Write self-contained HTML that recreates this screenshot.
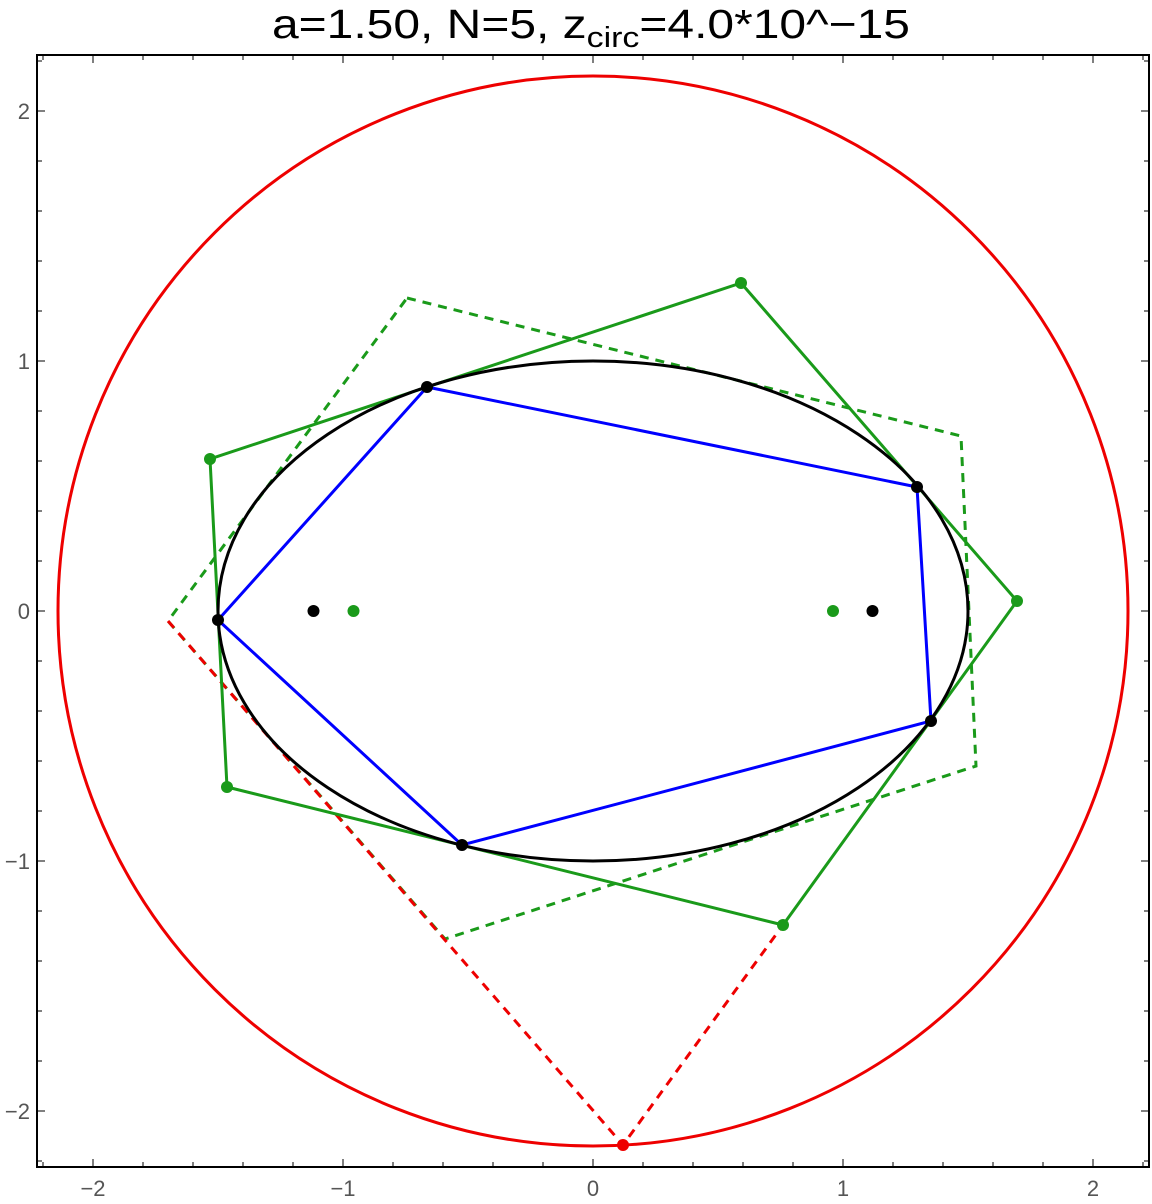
<!DOCTYPE html>
<html><head><meta charset="utf-8"><style>
body{margin:0;background:#fff;}
svg{display:block;}
text{font-family:"Liberation Sans",sans-serif;}
</style></head><body>
<svg id="chart" width="1152" height="1204" viewBox="0 0 1152 1204" xmlns="http://www.w3.org/2000/svg">
<text x="272" y="38" font-size="41" fill="#000" textLength="638" lengthAdjust="spacingAndGlyphs">a=1.50, N=5, z<tspan font-size="29" dy="9">circ</tspan><tspan dy="-9">=4.0*10^−15</tspan></text>
<rect x="37" y="55" width="1112" height="1112" fill="none" stroke="#000" stroke-width="2"/>
<g id="ticks"></g>
<g id="marks"></g>
</svg>
<script>
const majorTicks=[-2,-1,0,1,2];
const tickLabels=["−2","−1","0","1","2"];
const circleR=2.14;
const ellipseA=1.5, ellipseB=1.0;
const blueX=[-0.664,1.296,1.352,-0.524,-1.5];
const blueY=[0.896,0.496,-0.44,-0.936,-0.036];
const greenX=[0.592,1.696,0.76,-1.464,-1.532];
const greenY=[1.312,0.04,-1.256,-0.704,0.608];
const dashX=[-0.744,1.472,1.532,-0.592,-1.7];
const dashY=[1.252,0.7,-0.62,-1.312,-0.04];
const redX=[-1.7,0.12,0.76];
const redY=[-0.04,-2.136,-1.256];
const fociBlackX=[-1.118,1.118];
const fociGreenX=[-0.958,0.96];

const NS="http://www.w3.org/2000/svg";
const sx=v=>593+250*v, sy=v=>611-250*v;
function mk(tag,attrs,parent){const e=document.createElementNS(NS,tag);for(const k in attrs)e.setAttribute(k,attrs[k]);parent.appendChild(e);return e;}
const T=document.getElementById('ticks'), M=document.getElementById('marks');
for(let v=-2.2;v<=2.21;v+=0.2){
  const r=Math.round(v*10)/10, maj=Math.abs(r-Math.round(r))<1e-6, L=maj?8:5;
  const x=sx(r), y=sy(r);
  if(x>37&&x<1149){
    let t=mk('line',{x1:x,x2:x,y1:1167,y2:1167-L,stroke:'#000','stroke-width':1},T);
    
    t=mk('line',{x1:x,x2:x,y1:55,y2:55+L,stroke:'#000','stroke-width':1},T);
    
  }
  if(y>55&&y<1167){
    let t=mk('line',{x1:37,x2:37+L,y1:y,y2:y,stroke:'#000','stroke-width':1},T);
    
    t=mk('line',{x1:1149,x2:1149-L,y1:y,y2:y,stroke:'#000','stroke-width':1},T);
    
  }
}
majorTicks.forEach((v,i)=>{
  let t=mk('text',{x:sx(v),y:1196,'font-size':22,fill:'#555','text-anchor':'middle'},T);t.textContent=tickLabels[i];
  
  t=mk('text',{x:30,y:sy(v)+8,'font-size':22,fill:'#555','text-anchor':'end'},T);t.textContent=tickLabels[i];
  
});
function poly(xs,ys,color,dash,name,closed){
  const pts=xs.map((x,i)=>sx(x)+','+sy(ys[i])).join(' ');
  const e=mk(closed?'polygon':'polyline',{points:pts,fill:'none',stroke:color,'stroke-width':3,'stroke-dasharray':dash||'none'},M);
  
}
let c=mk('circle',{cx:sx(0),cy:sy(0),r:250*circleR,fill:'none',stroke:'#e00','stroke-width':3},M);

poly(dashX,dashY,'#1a9a1a','9,7','green-dashed-polygon',true);
poly(redX,redY,'#e00','9,7','red-dashed-path',false);
poly(greenX,greenY,'#1a9a1a',null,'green-polygon',true);
let el=mk('ellipse',{cx:sx(0),cy:sy(0),rx:250*ellipseA,ry:250*ellipseB,fill:'none',stroke:'#000','stroke-width':3},M);

poly(blueX,blueY,'#00f',null,'blue-polygon',true);
function dot(x,y,color,name){const d=mk('circle',{cx:sx(x),cy:sy(y),r:6,fill:color},M);
  }
greenX.forEach((x,i)=>dot(x,greenY[i],'#1a9a1a','green-vertex'));
blueX.forEach((x,i)=>dot(x,blueY[i],'#000','ellipse-vertex'));
dot(redX[1],redY[1],'#e00','red-point');
fociBlackX.forEach(x=>dot(x,0,'#000','focus-point'));
fociGreenX.forEach(x=>dot(x,0,'#1a9a1a','green-focus-point'));
</script>
</body></html>
